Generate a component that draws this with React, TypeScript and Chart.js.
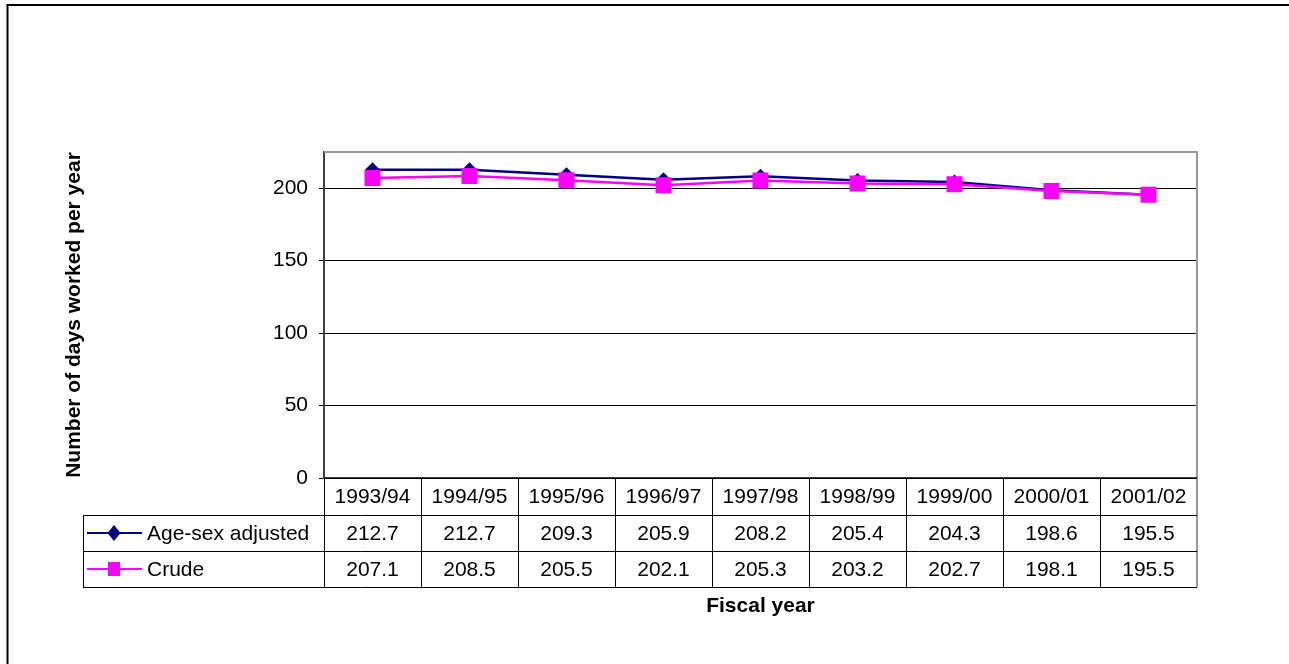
import React, { useEffect, useRef } from "react";
import { Chart, registerables } from "chart.js";

Chart.register(...registerables);

const categories = [
  "1993/94",
  "1994/95",
  "1995/96",
  "1996/97",
  "1997/98",
  "1998/99",
  "1999/00",
  "2000/01",
  "2001/02",
];
const ageSexAdjusted = [212.7, 212.7, 209.3, 205.9, 208.2, 205.4, 204.3, 198.6, 195.5];
const crude = [207.1, 208.5, 205.5, 202.1, 205.3, 203.2, 202.7, 198.1, 195.5];
const yTickValues = [0, 50, 100, 150, 200];
const yMax = 225;

const seriesNames = ["Age-sex adjusted", "Crude"];
const yTitle = "Number of days worked per year";
const xTitle = "Fiscal year";

const NAVY = "#000080";
const MAGENTA = "#FF00FF";
const FONT = "'Liberation Sans', Arial, sans-serif";

// Draws the outer frame, the plot frame and the data table under the plot.
const dataTablePlugin = {
  id: "dataTable",
  afterDraw(chart: any) {
    const { ctx, chartArea: a, scales } = chart;
    const xs = scales.x;
    const headerH = 37;
    const rowH = 36;
    const keyLeft = 83;
    const top = a.bottom;
    const r1 = top + headerH;
    const r2 = r1 + rowH;
    const r3 = r2 + rowH;
    const colW = (a.right - a.left) / categories.length;

    ctx.save();

    // outer frame
    ctx.strokeStyle = "#000";
    ctx.lineWidth = 2;
    ctx.strokeRect(7.5, 5, 3000, 3000);

    // plot frame: top and right edges
    ctx.strokeStyle = "#999999";
    ctx.lineWidth = 2;
    ctx.beginPath();
    ctx.moveTo(a.left, a.top);
    ctx.lineTo(a.right, a.top);
    ctx.lineTo(a.right, r3);
    ctx.stroke();

    // bottom axis line
    ctx.strokeStyle = "#000";
    ctx.lineWidth = 1.5;
    ctx.beginPath();
    ctx.moveTo(a.left, top);
    ctx.lineTo(a.right, top);
    ctx.stroke();

    // table rules
    ctx.strokeStyle = "#000";
    ctx.lineWidth = 1;
    ctx.beginPath();
    [r1, r2, r3].forEach((yy) => {
      ctx.moveTo(keyLeft, Math.round(yy) + 0.5);
      ctx.lineTo(a.right, Math.round(yy) + 0.5);
    });
    ctx.moveTo(keyLeft + 0.5, r1);
    ctx.lineTo(keyLeft + 0.5, r3);
    for (let i = 0; i < categories.length; i++) {
      const xx = Math.round(a.left + i * colW) + 0.5;
      ctx.moveTo(xx, top);
      ctx.lineTo(xx, r3);
    }
    ctx.stroke();

    // header and values
    ctx.fillStyle = "#000";
    ctx.font = `21px ${FONT}`;
    ctx.textAlign = "center";
    ctx.textBaseline = "middle";
    const series = [ageSexAdjusted, crude];
    categories.forEach((c, i) => {
      const cx = xs.getPixelForValue(i);
      ctx.fillText(c, cx, top + headerH / 2 + 1);
      series.forEach((s, k) => {
        ctx.fillText(s[i].toFixed(1), cx, r1 + k * rowH + rowH / 2 + 1);
      });
    });

    // legend keys
    const keyX1 = 87;
    const keyX2 = 142;
    const keyMid = 114;
    const colors = [NAVY, MAGENTA];
    colors.forEach((col, k) => {
      const cy = r1 + k * rowH + rowH / 2;
      ctx.strokeStyle = col;
      ctx.lineWidth = 2;
      ctx.beginPath();
      ctx.moveTo(keyX1, cy);
      ctx.lineTo(keyX2, cy);
      ctx.stroke();
      ctx.fillStyle = col;
      ctx.beginPath();
      if (k === 0) {
        ctx.moveTo(keyMid, cy - 8);
        ctx.lineTo(keyMid + 6.5, cy);
        ctx.lineTo(keyMid, cy + 8);
        ctx.lineTo(keyMid - 6.5, cy);
        ctx.closePath();
      } else {
        ctx.rect(keyMid - 6, cy - 7, 12, 14);
      }
      ctx.fill();
      ctx.fillStyle = "#000";
      ctx.textAlign = "left";
      ctx.fillText(seriesNames[k], 147, cy + 1);
    });

    // x-axis title
    ctx.font = `bold 21px ${FONT}`;
    ctx.textAlign = "center";
    ctx.fillText(xTitle, (a.left + a.right) / 2, 606);

    ctx.restore();
  },
};

export default function App() {
  const canvasRef = useRef<HTMLCanvasElement | null>(null);

  useEffect(() => {
    const canvas = canvasRef.current;
    if (!canvas) return;
    const chart = new Chart(canvas, {
      type: "line",
      data: {
        labels: categories,
        datasets: [
          {
            label: seriesNames[0],
            data: ageSexAdjusted,
            borderColor: NAVY,
            backgroundColor: NAVY,
            borderWidth: 2.5,
            pointStyle: "rectRot",
            pointRadius: 7.5,
            pointBorderWidth: 0,
            pointBackgroundColor: NAVY,
            tension: 0,
            order: 1,
          },
          {
            label: seriesNames[1],
            data: crude,
            borderColor: MAGENTA,
            backgroundColor: MAGENTA,
            borderWidth: 2.5,
            pointStyle: "rect",
            pointRadius: 11.3,
            pointBorderWidth: 0,
            pointBackgroundColor: MAGENTA,
            tension: 0,
            order: 0,
          },
        ],
      },
      options: {
        responsive: false,
        animation: false,
        layout: { padding: { left: 62, right: 92, top: 152, bottom: 186 } },
        plugins: {
          legend: { display: false },
          tooltip: { enabled: false },
          title: { display: false },
        },
        scales: {
          x: {
            type: "category",
            display: false,
            offset: true,
          },
          y: {
            min: 0,
            max: yMax,
            afterFit: (scale: any) => {
              scale.width = 262;
            },
            afterBuildTicks: (scale: any) => {
              scale.ticks = yTickValues.map((v) => ({ value: v }));
            },
            ticks: {
              color: "#000",
              font: { family: FONT, size: 21 },
              padding: 11,
            },
            grid: {
              color: "#000",
              lineWidth: 1,
              tickLength: 5,
              drawTicks: true,
            },
            border: { display: true, color: "#404040", width: 2 },
            title: {
              display: true,
              text: yTitle,
              color: "#000",
              font: { family: FONT, size: 21, weight: "bold" },
              padding: 0,
            },
          },
        },
      },
      plugins: [dataTablePlugin],
    });
    return () => chart.destroy();
  }, []);

  return (
    <div style={{ position: "fixed", left: 0, top: 0, width: 1289, height: 664, background: "#fff" }}>
      <canvas ref={canvasRef} width={1289} height={664} />
    </div>
  );
}
